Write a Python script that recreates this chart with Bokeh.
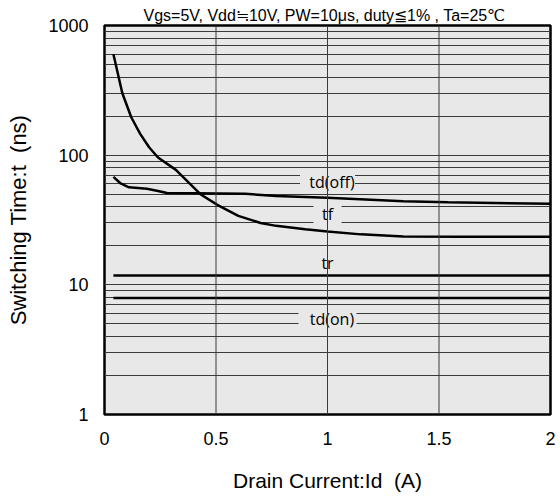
from bokeh.plotting import figure
from bokeh.models import FixedTicker, NumeralTickFormatter, Span, ColumnDataSource
from bokeh.embed import file_html
from bokeh.resources import INLINE
from bokeh.core.properties import value

# ---- data ----
title_text = "Vgs=5V, Vdd≒10V, PW=10μs, duty≦1% , Ta=25℃"
x_label = "Drain Current:Id\u00a0 (A)"
y_label = "Switching Time:t\u00a0 (ns)"

x_ticks = [0, 0.5, 1, 1.5, 2]
x_grid = [0.5, 1, 1.5]
y_ticks = [1, 10, 100, 1000]
y_minor = [2, 3, 4, 5, 6, 7, 8, 9,
           20, 30, 40, 50, 60, 70, 80, 90,
           200, 300, 400, 500, 600, 700, 800, 900]

tf_x = [0.04, 0.06, 0.08, 0.12, 0.16, 0.20, 0.24, 0.32, 0.43, 0.51, 0.60, 0.70, 0.77, 0.90, 1.00, 1.15, 1.34, 1.60, 2.00]
tf_y = [600, 425, 300, 196, 146, 115, 96, 77, 50, 41, 34, 30, 28.5, 26.8, 25.8, 24.5, 23.6, 23.5, 23.5]

td_off_x = [0.04, 0.07, 0.11, 0.19, 0.24, 0.28, 0.40, 0.63, 0.77, 1.00, 1.34, 1.54, 2.00]
td_off_y = [68, 61, 56.5, 55, 53, 51, 50.8, 50.3, 48.5, 47, 44.2, 43.3, 42.2]

tr_x = [0.04, 2.00]
tr_y = [11.8, 11.8]

td_on_x = [0.04, 2.00]
td_on_y = [7.9, 7.9]

label_text = ["td(off)", "tf", "tr", "td(on)"]
label_x = [1.02, 1.0, 1.0, 1.02]
label_y = [61.8, 35.3, 14.7, 5.47]

# ---- styles ----
box_x = [1.0, 1.0, 1.0, 1.0]
box_w = [55, 28, 0, 58]
box_h = [20, 24, 0, 20]

BG = "#e8e8e8"
GRID = "#3a3a3a"
FONT = "Liberation Sans"

p = figure(width=556, height=497, x_range=(0, 2), y_range=(1, 1000),
           y_axis_type="log", output_backend="svg", toolbar_location=None,
           min_border_left=104, min_border_right=6, min_border_top=25,
           min_border_bottom=83)

p.title.text = title_text
p.title.align = "left"
p.title.text_font = FONT
p.title.text_font_size = "16px"
p.title.text_font_style = "normal"
p.title.text_color = "black"
p.title.standoff = 3
p.title.offset = 39

p.background_fill_color = BG
p.border_fill_color = "white"
p.outline_line_color = "black"
p.outline_line_width = 2.5

yt = FixedTicker(ticks=y_ticks, minor_ticks=y_minor)
p.yaxis.ticker = yt
p.ygrid.ticker = yt
p.ygrid.grid_line_color = GRID
p.ygrid.grid_line_width = 1
p.ygrid.minor_grid_line_color = GRID
p.ygrid.minor_grid_line_width = 1
p.yaxis.formatter = NumeralTickFormatter(format="0")

p.xaxis.ticker = FixedTicker(ticks=x_ticks)
p.xaxis.formatter = NumeralTickFormatter(format="0.[0]")
p.xgrid.visible = False

for ax in (p.xaxis[0], p.yaxis[0]):
    ax.axis_line_color = None
    ax.major_tick_line_color = None
    ax.minor_tick_line_color = None
    ax.major_tick_out = 0
    ax.minor_tick_out = 0
    ax.major_label_text_font = FONT
    ax.major_label_text_font_size = "18px"
    ax.major_label_text_color = "black"
    ax.axis_label_text_font = FONT
    ax.axis_label_text_font_style = "normal"
    ax.axis_label_text_color = "black"

p.xaxis.axis_label = x_label
p.yaxis.axis_label = y_label
p.xaxis.axis_label_text_font_size = "21px"
p.yaxis.axis_label_text_font_size = "22px"
p.xaxis.major_label_standoff = 17
p.xaxis.axis_label_standoff = 21
p.yaxis.major_label_standoff = 16
p.yaxis.axis_label_standoff = 14

# label background boxes covering horizontal grid lines
box_src = ColumnDataSource(dict(x=box_x, y=label_y, w=box_w, h=box_h))
p.rect(x="x", y="y", width="w", height="h", width_units="screen", height_units="screen",
       source=box_src, fill_color=BG, line_color=None)

# vertical grid lines above label boxes
for gx in x_grid:
    p.add_layout(Span(location=gx, dimension="height", line_color=GRID, line_width=1, level="glyph"))

# curves
for xs, ys in ((tf_x, tf_y), (td_off_x, td_off_y), (tr_x, tr_y), (td_on_x, td_on_y)):
    p.line(xs, ys, line_color="black", line_width=2.5)

lab_src = ColumnDataSource(dict(x=label_x, y=label_y, t=label_text))
p.text(x="x", y="y", text="t", source=lab_src, text_font=value("Open Sans"),
       text_font_size="16px", text_align="center", text_baseline="middle", text_color="black")

open("out.html", "w").write(file_html(p, INLINE))
